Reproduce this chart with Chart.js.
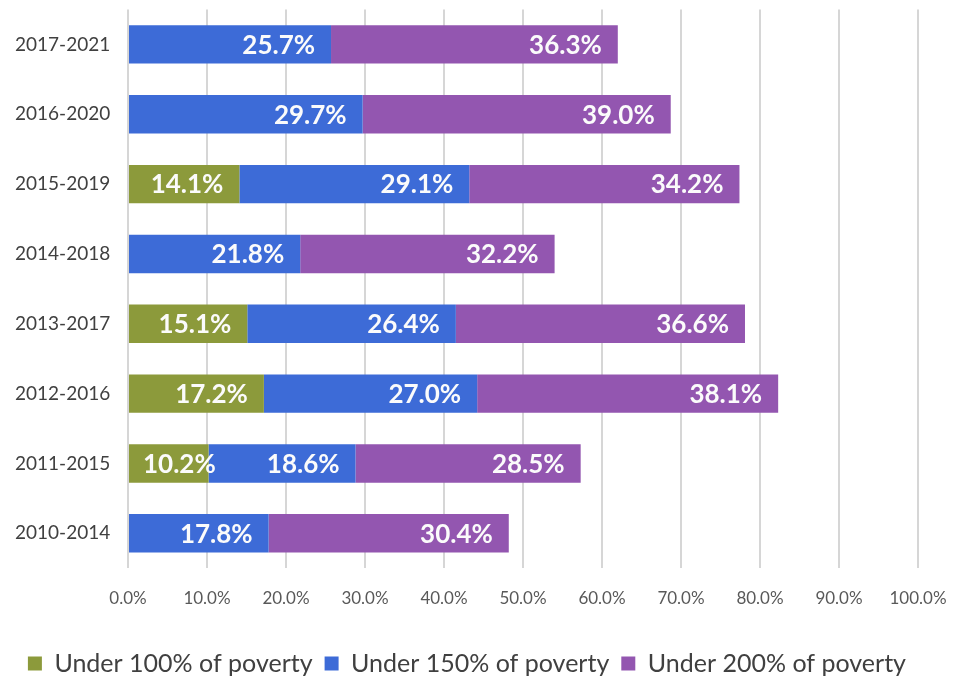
<!DOCTYPE html>
<html>
<head>
<meta charset="utf-8">
<script src="https://cdn.jsdelivr.net/npm/chart.js@4.4.1/dist/chart.umd.min.js"></script>
<style>
  html, body { margin: 0; padding: 0; background: #fff; }
  #wrap { width: 955px; height: 678px; }
</style>
</head>
<body>
<div id="wrap"><canvas id="chart"></canvas></div>
<script>
const periods = ["2017-2021", "2016-2020", "2015-2019", "2014-2018", "2013-2017", "2012-2016", "2011-2015", "2010-2014"];
const under100 = [null, null, 14.1, null, 15.1, 17.2, 10.2, null];
const under150 = [25.7, 29.7, 29.1, 21.8, 26.4, 27.0, 18.6, 17.8];
const under200 = [36.3, 39.0, 34.2, 32.2, 36.6, 38.1, 28.5, 30.4];
const xTicks = [0, 10, 20, 30, 40, 50, 60, 70, 80, 90, 100];

const fontFamily = "Lato, 'Noto Sans', sans-serif";

// white bold value labels at the inner end of each bar segment
const barLabels = {
  id: "barLabels",
  afterDatasetsDraw(chart) {
    const ctx = chart.ctx;
    ctx.save();
    ctx.fillStyle = "#fbfbfb";
    ctx.font = "bold 26px " + fontFamily;
    ctx.textAlign = "right";
    ctx.textBaseline = "middle";
    chart.data.datasets.forEach((ds, i) => {
      chart.getDatasetMeta(i).data.forEach((bar, j) => {
        const v = ds.data[j];
        if (v == null) return;
        const txt = v.toFixed(1) + "%";
        const w = ctx.measureText(txt).width;
        // narrow segments: push the label right so it stays readable
        const x = Math.max(bar.x - 16, bar.base + 14 + w);
        ctx.fillText(txt, x, bar.y + 1);
      });
    });
    ctx.restore();
  }
};

new Chart(document.getElementById("chart"), {
  type: "bar",
  data: {
    labels: periods,
    datasets: [
      { label: "Under 100% of poverty", data: under100, backgroundColor: "#8c9a3b" },
      { label: "Under 150% of poverty", data: under150, backgroundColor: "#3d6bd7" },
      { label: "Under 200% of poverty", data: under200, backgroundColor: "#9356b0" }
    ]
  },
  options: {
    indexAxis: "y",
    responsive: true,
    maintainAspectRatio: false,
    animation: false,
    layout: { padding: { left: 15, right: 37, top: 0, bottom: -8 } },
    datasets: { bar: { categoryPercentage: 1, barPercentage: 0.55 } },
    scales: {
      x: {
        stacked: true,
        min: 0,
        max: 100,
        afterBuildTicks(scale) { scale.ticks = xTicks.map(v => ({ value: v })); },
        afterFit(scale) { scale.height += 30; },
        grid: { color: "#d6d6d6", lineWidth: 2, drawTicks: false },
        border: { display: false },
        ticks: {
          padding: 0,
          color: "#595959",
          font: { family: fontFamily, size: 17 },
          // empty first line drops the label below the plot without widening side padding
          callback: v => ["", v.toFixed(1) + "%"]
        }
      },
      y: {
        stacked: true,
        grid: { display: false },
        border: { display: false },
        afterFit(scale) { scale.width = 113; },
        ticks: {
          padding: 0,
          crossAlign: "far",
          color: "#404040",
          font: { family: fontFamily, size: 19, lineHeight: 1 }
        }
      }
    },
    plugins: {
      legend: {
        position: "bottom",
        align: "end",
        labels: {
          boxWidth: 14,
          boxHeight: 14,
          padding: 12,
          color: "#404040",
          font: { family: fontFamily, size: 25 }
        }
      },
      tooltip: { enabled: false }
    }
  },
  plugins: [barLabels]
});
</script>
</body>
</html>
